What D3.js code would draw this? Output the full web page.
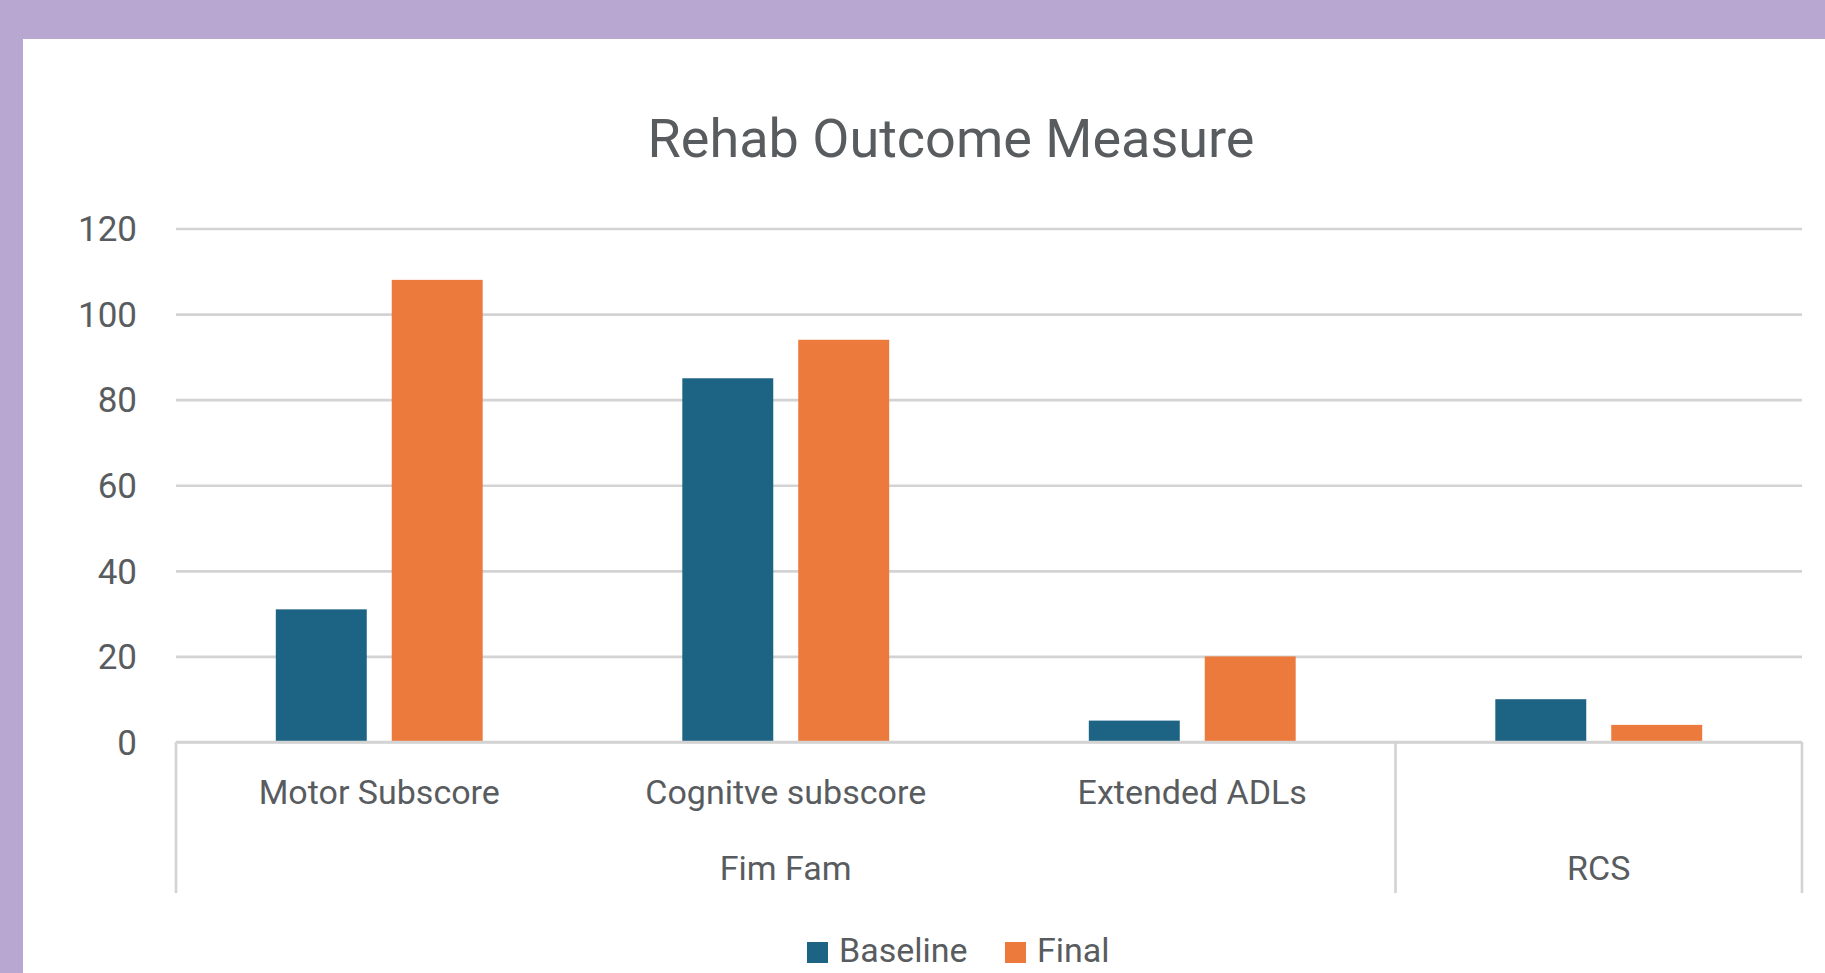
<!DOCTYPE html>
<head>
    <meta charset="utf-8">
    <title>Rehab Outcome Measure</title>
    <style>
        body { margin: 0; background: #b7a7d1; }
        svg { display: block; }
        .tick text, .lbl { fill: #595c5f; font-family: Roboto, "Liberation Sans", sans-serif; }
        .grid line { stroke: #d3d3d3; stroke-width: 2.6px; }
        .sep { stroke: #d3d3d3; stroke-width: 2.6px; }
    </style>
</head>
<body>
<script src="https://d3js.org/d3.v7.min.js"></script>
<script>

// chart values
var categories = ["Motor Subscore", "Cognitve subscore", "Extended ADLs", ""];
var groups     = ["Fim Fam", "Fim Fam", "Fim Fam", "RCS"];
var series     = ["Baseline", "Final"];
var baseline   = [31, 85, 5, 10];
var finals     = [108, 94, 20, 4];
var yTicks     = [0, 20, 40, 60, 80, 100, 120];
var colors     = ["#1d6383", "#ec7a3d"];

var W = 1825, H = 973;
var plotLeft = 176, plotRight = 1802, plotTop = 228.5, plotBottom = 742;

var svg = d3.select("body").append("svg")
    .attr("width", W)
    .attr("height", H);

// purple frame + white panel
svg.append("rect").attr("width", W).attr("height", H).attr("fill", "#b7a7d1");
svg.append("rect").attr("x", 23).attr("y", 39).attr("width", W - 23).attr("height", H - 39).attr("fill", "#fff");

var keys = categories.map(function(c, i) { return groups[i] + "|" + c; });

var x0 = d3.scaleBand().domain(keys).range([plotLeft, plotRight]).padding(0);
var x1 = d3.scaleBand().domain(series).range([0, x0.bandwidth()])
    .paddingInner(0.2155).paddingOuter(0.861);
var y = d3.scaleLinear().domain([0, 120]).range([plotBottom, plotTop]);

// title
svg.append("text").attr("class", "lbl")
    .attr("x", 951).attr("y", 157)
    .attr("text-anchor", "middle")
    .style("font-size", "54px")
    .text("Rehab Outcome Measure");

// y axis + gridlines
var yAxis = svg.append("g").attr("class", "grid")
    .attr("transform", "translate(" + plotLeft + ",0)")
    .call(d3.axisLeft(y).tickValues(yTicks).tickSizeInner(-(plotRight - plotLeft)).tickSizeOuter(0).tickPadding(39));
yAxis.select(".domain").remove();
yAxis.selectAll(".tick text").style("font-size", "35px").attr("dy", "0.35em");

// bars
var rows = keys.map(function(k, i) { return {key: k, vals: [baseline[i], finals[i]]}; });

svg.append("g").selectAll("g")
    .data(rows)
  .enter().append("g")
    .attr("transform", function(d) { return "translate(" + x0(d.key) + ",0)"; })
  .selectAll("rect")
    .data(function(d) { return d.vals.map(function(v, j) { return {s: series[j], v: v, c: colors[j]}; }); })
  .enter().append("rect")
    .attr("x", function(d) { return x1(d.s); })
    .attr("y", function(d) { return y(d.v); })
    .attr("width", x1.bandwidth())
    .attr("height", function(d) { return plotBottom - y(d.v); })
    .attr("fill", function(d) { return d.c; });

// category axis (two levels)
var lineBottom = 893;
var bounds = [keys[0], keys[3]];
bounds.forEach(function(k) {
  svg.append("line").attr("class", "sep")
      .attr("x1", x0(k)).attr("x2", x0(k))
      .attr("y1", plotBottom).attr("y2", lineBottom);
});
svg.append("line").attr("class", "sep")
    .attr("x1", plotRight).attr("x2", plotRight)
    .attr("y1", plotBottom).attr("y2", lineBottom);
svg.append("line").attr("class", "sep")
    .attr("x1", plotLeft).attr("x2", plotRight)
    .attr("y1", plotBottom).attr("y2", plotBottom);

svg.append("g").selectAll("text")
    .data(keys)
  .enter().append("text").attr("class", "lbl")
    .attr("x", function(k) { return x0(k) + x0.bandwidth() / 2; })
    .attr("y", 804)
    .attr("text-anchor", "middle")
    .style("font-size", "34px")
    .text(function(k, i) { return categories[i]; });

var groupNames = Array.from(new Set(groups));
svg.append("g").selectAll("text")
    .data(groupNames)
  .enter().append("text").attr("class", "lbl")
    .attr("x", function(g) {
      var ks = keys.filter(function(k, i) { return groups[i] === g; });
      return (x0(ks[0]) + x0(ks[ks.length - 1]) + x0.bandwidth()) / 2;
    })
    .attr("y", 880)
    .attr("text-anchor", "middle")
    .style("font-size", "34px")
    .text(function(g) { return g; });

// legend
var legend = svg.append("g");
var legX = [807, 1005];
series.forEach(function(s, i) {
  legend.append("rect")
      .attr("x", legX[i]).attr("y", 942)
      .attr("width", 21).attr("height", 21)
      .attr("fill", colors[i]);
  legend.append("text").attr("class", "lbl")
      .attr("x", legX[i] + 32).attr("y", 962)
      .style("font-size", "34px")
      .text(s);
});

</script>
</body>
